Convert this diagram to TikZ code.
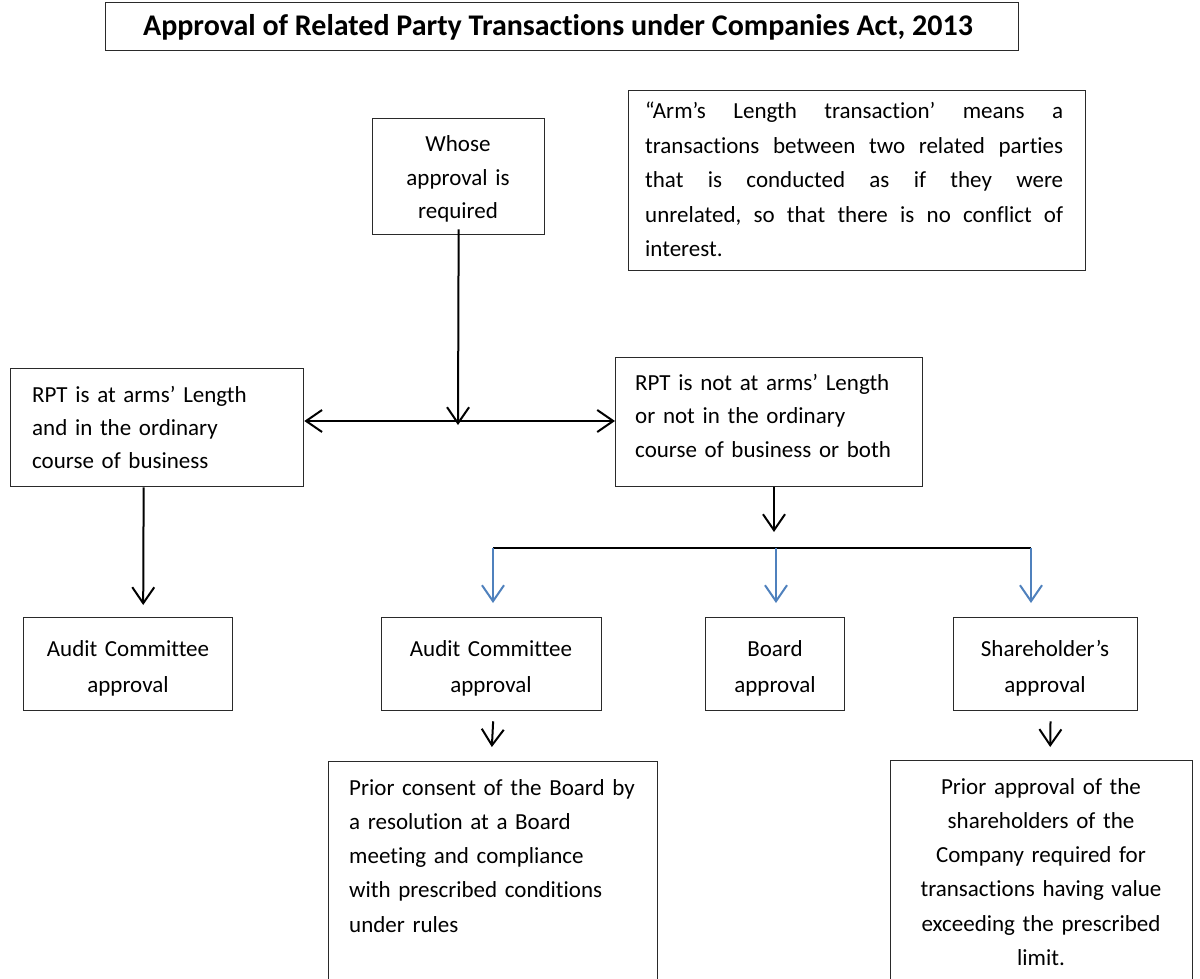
\documentclass[tikz,border=0pt]{standalone}
\usepackage{fontspec}
\setmainfont{Carlito}[Ligatures=NoCommon]
\usetikzlibrary{arrows.meta}
\definecolor{lineblue}{HTML}{4F81BD}
\definecolor{boxline}{HTML}{2A2A2A}
\newcommand{\jline}[1]{\leavevmode\hbox to 418pt{#1}}
\begin{document}
\begin{tikzpicture}[x=1pt,y=-1pt,
  box/.style={draw=boxline, line width=1.3pt, inner sep=0pt, rectangle, anchor=north west},
  txt/.style={inner sep=0pt, font=\fontsize{23}{33.5}\selectfont},
  tip/.style={-{Straight Barb[length=16pt,width=22pt,line width=2pt]}},
  arr/.style={line width=2pt, black, tip},
  barr/.style={line width=2pt, lineblue, tip},
  dbl/.style={line width=2pt, black, {Straight Barb[length=16pt,width=22pt,line width=2pt]}-{Straight Barb[length=16pt,width=22pt,line width=2pt]}},
  bus/.style={line width=2pt, black}
]
\clip (0,0) rectangle (1200,979);
\fill[white] (0,0) rectangle (1200,979);

% boxes
\node[box, minimum width=913pt, minimum height=48pt] (title) at (105,2) {};
\node[box, minimum width=172pt, minimum height=116pt] (whose) at (372,118) {};
\node[box, minimum width=457pt, minimum height=180pt] (arms) at (628,90) {};
\node[box, minimum width=293pt, minimum height=118pt] (lrpt) at (10,368) {};
\node[box, minimum width=307pt, minimum height=129pt] (rrpt) at (615,357) {};
\node[box, minimum width=209pt, minimum height=93pt] (aud1) at (23,617) {};
\node[box, minimum width=220pt, minimum height=93pt] (aud2) at (381,617) {};
\node[box, minimum width=139pt, minimum height=93pt] (board) at (705,617) {};
\node[box, minimum width=184pt, minimum height=93pt] (share) at (953,617) {};
\node[box, minimum width=329pt, minimum height=240pt] (prior1) at (328,761) {};
\node[box, minimum width=302pt, minimum height=240pt] (prior2) at (890,760) {};

% texts
\node[inner sep=0pt, anchor=base, font=\fontsize{30}{36}\selectfont\bfseries] (titletxt) at (558,36)
  {Approval of Related Party Transactions under Companies Act, 2013};
\node[txt, anchor=base, text width=172pt, align=center] (whosetxt) at (458,152)
  {Whose\\approval is\\required};
\node[txt, anchor=base west, text width=418pt, align=left, font=\fontsize{23}{34.5}\selectfont] (armstxt) at (645,119)
  {\jline{“Arm’s \hfill Length \hfill transaction’ \hfill means \hfill a}\\
   \jline{transactions \hfill between \hfill two \hfill related \hfill parties}\\
   \jline{that \hfill is \hfill conducted \hfill as \hfill if \hfill they \hfill were}\\
   \jline{unrelated, \hfill so \hfill that \hfill there \hfill is \hfill no \hfill conflict \hfill of}\\
   interest.};
\node[txt, anchor=base west, text width=270pt, align=left, font=\fontsize{23}{33}\selectfont] (lrpttxt) at (32,402)
  {RPT is at arms’ Length\\and in the ordinary\\course of business};
\node[txt, anchor=base west, text width=280pt, align=left] (rrpttxt) at (635,390)
  {RPT is not at arms’ Length\\or not in the ordinary\\course of business or both};
\node[txt, anchor=base, text width=209pt, align=center, font=\fontsize{23}{36}\selectfont] (aud1txt) at (128,656)
  {Audit Committee\\approval};
\node[txt, anchor=base, text width=220pt, align=center, font=\fontsize{23}{36}\selectfont] (aud2txt) at (491,656)
  {Audit Committee\\approval};
\node[txt, anchor=base, text width=139pt, align=center, font=\fontsize{23}{36}\selectfont] (boardtxt) at (775,656)
  {Board\\approval};
\node[txt, anchor=base, text width=184pt, align=center, font=\fontsize{23}{36}\selectfont] (sharetxt) at (1045,656)
  {Shareholder’s\\approval};
\node[txt, anchor=base west, text width=310pt, align=left, font=\fontsize{23}{34.3}\selectfont] (prior1txt) at (349,795)
  {Prior consent of the Board by\\a resolution at a Board\\meeting and compliance\\with prescribed conditions\\under rules};
\node[txt, anchor=base, text width=302pt, align=center, font=\fontsize{23}{34.3}\selectfont] (prior2txt) at (1041,794)
  {Prior approval of the\\shareholders of the\\Company required for\\transactions having value\\exceeding the prescribed\\limit.};

% connectors
\coordinate (j) at (458,421);
\draw[arr] ([yshift=6pt]whose.south) -- ([yshift=-4pt]j);
\draw[dbl] (lrpt.east |- j) -- (rrpt.west |- j);

\draw[arr, shorten >=12pt] ([xshift=-13.5pt]lrpt.south) -- ([xshift=15pt]aud1.north);

\coordinate (b1) at (493,548);
\coordinate (b2) at (776,548);
\coordinate (b3) at (1031,548);
\draw[arr, shorten >=16pt] (rrpt.south -| 774,0) -- (774,548);
\draw[bus] (b1) -- (b3);
\draw[barr, shorten >=14pt] (b1) -- (aud2.north -| b1);
\draw[barr, shorten >=14pt] (b2) -- (board.north -| b2);
\draw[barr, shorten >=14pt] (b3) -- (share.north -| b3);

\draw[arr, shorten <=10pt, shorten >=14pt] ([xshift=2pt]aud2.south) -- ([xshift=-0.5pt]prior1.north -| aud2.south);
\draw[arr, shorten <=10pt, shorten >=13pt] ([xshift=5pt]share.south) -- (prior2.north -| 1050,0);
\end{tikzpicture}
\end{document}
